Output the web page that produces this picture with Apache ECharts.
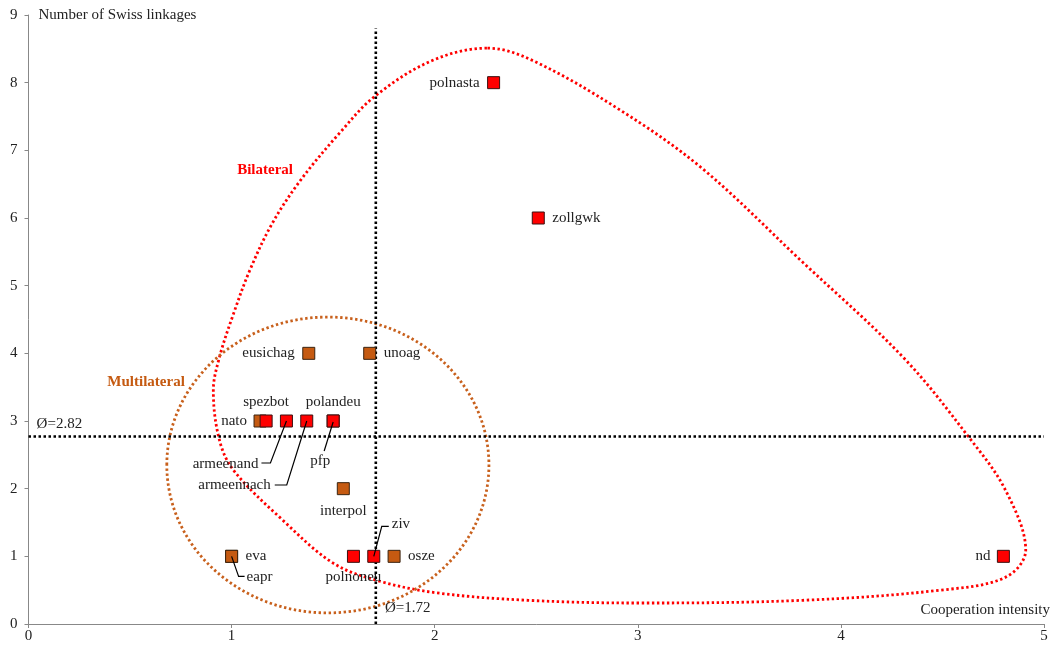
<!DOCTYPE html>
<html>
<head>
<meta charset="utf-8">
<script src="https://cdn.jsdelivr.net/npm/echarts@6/dist/echarts.min.js"></script>
<style>
html,body{margin:0;padding:0;background:#fff;}
#chart{width:1061px;height:649px;}
</style>
</head>
<body>
<div id="chart"></div>
<script>
// ---------- DATA ----------
const names     = ['polnasta','zollgwk','nd','eusichag','unoag','nato','spezbot','armeenand','armeennach','polandeu','pfp','interpol','eva','eapr','polnoneu','ziv','osze'];
const intensity = [2.29, 2.51, 4.80, 1.38, 1.68, 1.14, 1.17, 1.27, 1.37, 1.50, 1.50, 1.55, 1.00, 1.00, 1.60, 1.70, 1.80];
const linkages  = [8, 6, 1, 4, 4, 3, 3, 3, 3, 3, 3, 2, 1, 1, 1, 1, 1];
const kind      = ['B','B','B','M','M','M','B','B','B','B','B','M','M','M','B','B','M'];

const xTicks = [0, 1, 2, 3, 4, 5];
const yTicks = [0, 1, 2, 3, 4, 5, 6, 7, 8, 9];

const meanIntensity = 1.71;
const meanLinkages  = 2.77;
const meanLabels    = ['Ø=2.82', 'Ø=1.72'];

// Bilateral outline (data units)
const bilatX = [2.26, 2.48, 2.90, 3.31, 3.80, 4.31, 4.63, 4.81, 4.91, 4.81, 4.49, 3.81, 3.01, 2.46, 2.01, 1.72, 1.50, 1.25, 1.01, 0.94, 0.91, 0.94, 1.01, 1.09, 1.20, 1.34, 1.53, 1.71, 1.99];
const bilatY = [8.51, 8.33, 7.62, 6.75, 5.38, 3.93, 2.76, 1.98, 1.09, 0.69, 0.50, 0.35, 0.31, 0.35, 0.46, 0.64, 0.90, 1.54, 2.27, 2.72, 3.45, 3.94, 4.59, 5.23, 5.92, 6.56, 7.25, 7.81, 8.33];
// Multilateral ellipse: centre and radii (data units)
const multiCenter = [1.474, 2.35];
const multiRadius = [0.793, 2.186];

const groupTitles = ['Bilateral', 'Multilateral'];

// ---------- STYLE / PLACEMENT ----------
const RED = '#FF0000', ORANGE = '#C55A11', ORANGE_LINE = '#C8601C';
const FONT = '"Liberation Serif","Times New Roman",serif';

const place = {
  polnasta:   {dx:-14, dy:0, align:'right'},
  zollgwk:    {dx:14, dy:0, align:'left'},
  nd:         {dx:-13, dy:0, align:'right'},
  eusichag:   {dx:-14, dy:0, align:'right'},
  unoag:      {dx:14, dy:0, align:'left'},
  nato:       {dx:-13, dy:0, align:'right'},
  spezbot:    {dx:0, dy:-19, align:'center'},
  armeenand:  {dx:-28, dy:43, align:'right', leader:[[0,0],[-16,42],[-25,42]]},
  armeennach: {dx:-36, dy:64, align:'right', leader:[[0,0],[-20,64],[-32,64]]},
  polandeu:   {dx:0, dy:-19, align:'center'},
  pfp:        {dx:-13, dy:40, align:'center', leader:[[0,1],[-9,30]]},
  interpol:   {dx:0, dy:22, align:'center'},
  eva:        {dx:14, dy:0, align:'left'},
  eapr:       {dx:15, dy:21, align:'left', leader:[[0,0],[7,20],[13,20]]},
  polnoneu:   {dx:0, dy:21, align:'center'},
  ziv:        {dx:18, dy:-32, align:'left', leader:[[0,0],[8,-30],[15,-30]]},
  osze:       {dx:14, dy:0, align:'left'}
};

const annot = [
  {text: groupTitles[0], x:1.165, y:6.71, align:'center', color:RED, bold:true},
  {text: groupTitles[1], x:0.579, y:3.57, align:'center', color:ORANGE, bold:true},
  {text: meanLabels[0], x:0.04, y:2.96, align:'left', color:'#222', bold:false},
  {text: meanLabels[1], x:1.755, y:0.24, align:'left', color:'#222', bold:false}
];

// ---------- BUILD ----------
const pts = names.map((n, i) => [intensity[i], linkages[i], i]);
const multiPts = pts.filter(p => kind[p[2]] === 'M');
const bilatPts = pts.filter(p => kind[p[2]] === 'B');

const chart = echarts.init(document.getElementById('chart'), null, {renderer:'canvas'});

const dotted = (color, w, dash) => ({stroke: color, lineWidth: w, lineDash: dash, fill: null});

const option = {
  animation: false,
  backgroundColor: '#fff',
  grid: {left: 28.5, right: 17, top: 15, bottom: 25, containLabel: false},
  xAxis: {
    type: 'value', min: xTicks[0], max: xTicks[xTicks.length-1], interval: 1,
    name: 'Cooperation intensity', nameLocation: 'end', nameGap: 6,
    nameTextStyle: {fontFamily: FONT, fontSize: 15, color: '#222', align: 'right', verticalAlign: 'bottom', padding: [0,0,6,0]},
    axisLine: {lineStyle: {color: '#888', width: 1}},
    axisTick: {show: true, inside: false, length: 4, lineStyle: {color: '#888'}},
    axisLabel: {fontFamily: FONT, fontSize: 15, color: '#222', margin: 5},
    splitLine: {show: false}
  },
  yAxis: {
    type: 'value', min: yTicks[0], max: yTicks[yTicks.length-1], interval: 1,
    name: 'Number of Swiss linkages', nameLocation: 'end', nameGap: 0,
    nameTextStyle: {fontFamily: FONT, fontSize: 15, color: '#222', align: 'left', verticalAlign: 'middle', padding: [0,0,0,10]},
    axisLine: {lineStyle: {color: '#888', width: 1}},
    axisTick: {show: true, inside: false, length: 4, lineStyle: {color: '#888'}},
    axisLabel: {fontFamily: FONT, fontSize: 15, color: '#222', margin: 11},
    splitLine: {show: false}
  },
  series: [
    { // bilateral outline
      type: 'custom', silent: true, z: 1, clip: false,
      data: [[0, 0]],
      renderItem: (params, api) => ({
        type: 'polygon',
        shape: {points: bilatX.map((x, i) => api.coord([x, bilatY[i]])), smooth: 0.35},
        style: dotted(RED, 2.8, [2.4, 2.6])
      })
    },
    { // multilateral ellipse
      type: 'custom', silent: true, z: 1, clip: false,
      data: [[0, 0]],
      renderItem: (params, api) => {
        const c = api.coord(multiCenter);
        const rx = api.size([multiRadius[0], 0])[0];
        const ry = api.size([0, multiRadius[1]])[1];
        return {type: 'ellipse', shape: {cx: c[0], cy: c[1], rx: rx, ry: ry}, style: dotted(ORANGE_LINE, 2.8, [2.4, 2.6])};
      }
    },
    { // point labels
      type: 'custom', silent: true, z: 2, clip: false,
      data: pts,
      renderItem: (params, api) => {
        const p = api.coord([api.value(0), api.value(1)]);
        const n = names[api.value(2)];
        const L = place[n];
        return {type: 'text', x: p[0] + L.dx, y: p[1] + L.dy,
          style: {text: n, font: '15px ' + FONT, fill: '#222', align: L.align, verticalAlign: 'middle'}};
      }
    },
    { // annotations
      type: 'custom', silent: true, z: 2, clip: false,
      data: annot.map((a, i) => [a.x, a.y, i]),
      renderItem: (params, api) => {
        const a = annot[api.value(2)];
        const p = api.coord([api.value(0), api.value(1)]);
        return {type: 'text', x: p[0], y: p[1],
          style: {text: a.text, font: (a.bold ? 'bold ' : '') + '15px ' + FONT, fill: a.color, align: a.align, verticalAlign: 'middle'}};
      }
    },
    { // mean linkages line
      type: 'line', silent: true, z: 3, symbol: 'none',
      data: [[xTicks[0], meanLinkages], [xTicks[xTicks.length-1], meanLinkages]],
      lineStyle: {color: '#000', width: 2.6, type: [2.5, 2.5]}
    },
    { // mean intensity line
      type: 'line', silent: true, z: 3, symbol: 'none',
      data: [[meanIntensity, 0], [meanIntensity, 8.8]],
      lineStyle: {color: '#000', width: 2.6, type: [2.5, 2.5]}
    },
    {
      name: 'Multilateral', type: 'scatter', z: 4, data: multiPts,
      symbol: 'rect', symbolSize: 12,
      itemStyle: {color: ORANGE, borderColor: '#3a2410', borderWidth: 1, opacity: 1}
    },
    {
      name: 'Bilateral', type: 'scatter', z: 4, data: bilatPts,
      symbol: 'rect', symbolSize: 12,
      itemStyle: {color: RED, borderColor: '#3a1010', borderWidth: 1, opacity: 1}
    },
    { // leader lines
      type: 'custom', silent: true, z: 5, clip: false,
      data: pts.filter(p => place[names[p[2]]].leader),
      renderItem: (params, api) => {
        const p = api.coord([api.value(0), api.value(1)]);
        const L = place[names[api.value(2)]];
        return {type: 'polyline', shape: {points: L.leader.map(o => [p[0] + o[0], p[1] + o[1]])},
          style: {stroke: '#000', lineWidth: 1.2, fill: null}};
      }
    }
  ]
};
chart.setOption(option);
</script>
</body>
</html>
